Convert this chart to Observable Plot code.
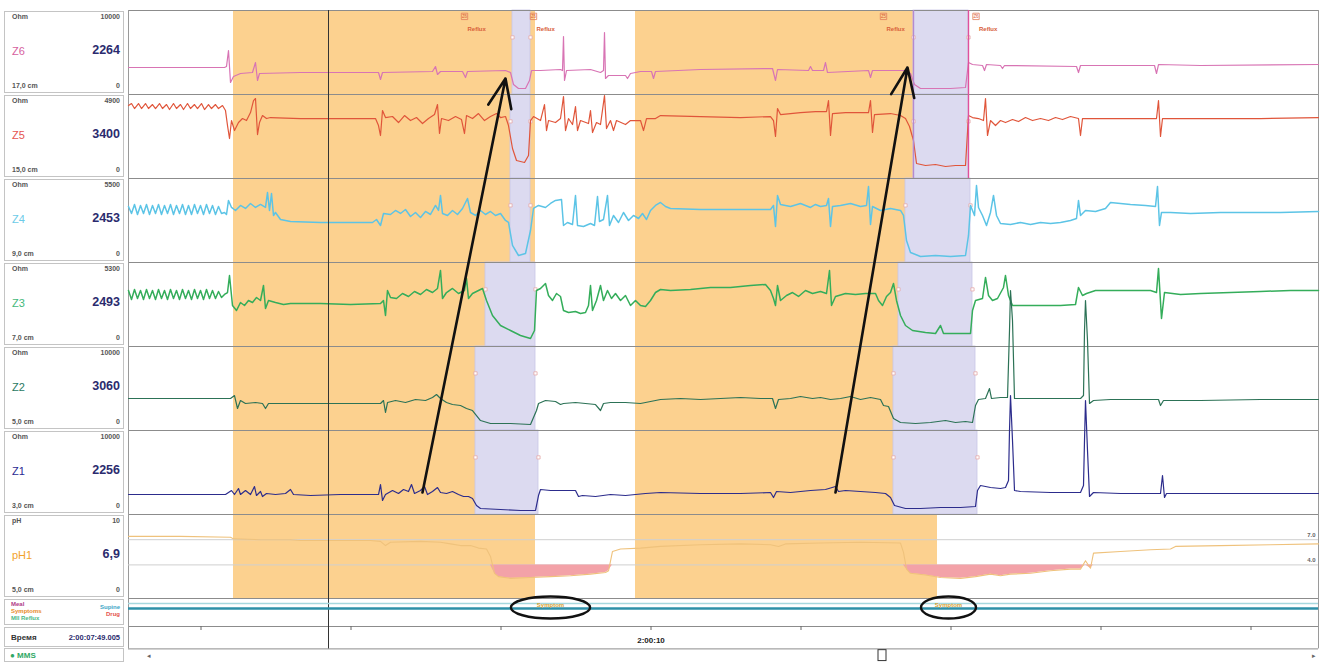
<!DOCTYPE html>
<html><head><meta charset="utf-8">
<script src="https://cdn.jsdelivr.net/npm/d3@7"></script>
<script src="https://cdn.jsdelivr.net/npm/@observablehq/plot@0.6"></script>
<style>
body{margin:0;background:#fff;font-family:"Liberation Sans",Arial,sans-serif;}
#wrap{position:relative;width:1329px;height:662px;overflow:hidden;background:#fff;}
#wrap svg{position:absolute;left:0;top:0;}
#labels{position:absolute;left:0;top:0;width:126px;height:662px;}
.box{position:absolute;left:4px;width:120px;border:1px solid #c4c4c4;background:#fff;box-sizing:border-box;}
.box span{position:absolute;white-space:nowrap;}
.tl{left:7px;top:1px;font-size:7px;font-weight:bold;color:#555;}
.tr{right:3px;top:1px;font-size:7px;font-weight:bold;color:#555;}
.nm{left:7px;top:33px;font-size:11px;}
.vl{right:3px;top:31px;font-size:12.5px;font-weight:bold;color:#2b2b6e;}
.bl{left:7px;bottom:3px;font-size:7px;font-weight:bold;color:#555;}
.br{right:3px;bottom:3px;font-size:7px;font-weight:bold;color:#555;}
.sm{font-size:6px;line-height:7px;font-weight:bold;}
</style></head>
<body>
<div id="wrap"><div id="chart"></div><div id="labels"></div></div>
<script>
// ---------- data ----------
const channels = ["Z6", "Z5", "Z4", "Z3", "Z2", "Z1"];
const maxOhm = [10000, 4900, 5500, 5300, 10000, 10000];
const positionsCm = ["17,0 cm", "15,0 cm", "9,0 cm", "7,0 cm", "5,0 cm", "3,0 cm"];
const cursorValues = ["2264", "3400", "2453", "2493", "3060", "2256"];
const phName = "pH1", phMax = 10, phCursor = "6,9", phPos = "5,0 cm";
const cursorTime = "2:00:07:49.005";
const cursorT = 80;           // elapsed seconds in the window
const timeTicks = [29, 89, 149, 209, 269, 329, 389, 449];
const timeTickLabels = [{t: 209, label: "2:00:10"}];
const phRefs = [7.0, 4.0];
const phRefLabels = ["7.0", "4.0"];

// elapsed seconds, Ohm
const Z6 = [[0,3213],[28.8,3213],[38.4,3213],[39.2,3332],[40,5236],[40.8,1428],[42,2142],[44.8,2499],[49.6,2618],[50.8,3808],[51.6,1666],[52.4,2499],[68.8,2618],[100,2618],[100.8,1785],[101.6,2618],[121.6,2737],[122.8,3332],[123.6,2380],[124.8,2737],[133.6,2737],[134.8,2023],[135.6,2737],[150.8,2856],[152.8,2618],[154,1190],[156,714],[158.8,714],[160.4,1666],[161.2,2856],[164.8,2856],[172.8,2975],[173.6,2856],[174,6902],[174.4,1666],[175.2,2856],[184.8,2975],[188.8,2618],[190,2856],[190.4,7378],[190.8,1904],[192,2261],[198.8,2261],[199.6,1904],[200.8,2499],[204.8,2737],[209.2,2737],[210,1904],[210.8,2737],[228.8,2975],[257.6,3094],[258.8,1666],[259.6,2975],[272,2856],[272.8,3332],[273.6,2856],[278,2856],[278.8,3808],[279.6,2618],[296,2856],[296.8,2023],[297.6,2856],[310.8,2856],[312.8,2499],[314.4,1190],[316.8,714],[328.8,714],[334.8,833],[336,3808],[337.6,3570],[341.6,3451],[342.4,2856],[343.2,3570],[348.8,3451],[349.6,3094],[350.4,3451],[379.2,3332],[380,2618],[380.8,3451],[410.4,3451],[411.2,2499],[412,3570],[428.8,3451],[476,3570]];
const Z5 = [[0,4256],[1.2,4373],[2.4,4081],[4,4373],[5.2,4081],[6.8,4373],[8,4081],[9.6,4314],[10.8,4081],[12.4,4373],[13.6,4081],[15.2,4314],[16.4,4023],[18,4373],[19.2,4081],[20.8,4314],[22,4023],[23.6,4373],[24.8,4081],[26.4,4314],[27.6,4081],[29.2,4373],[30.4,4023],[32,4314],[33.2,4081],[34.8,4314],[36,4081],[37.6,4256],[38.8,3964],[39.6,3090],[40.4,2332],[41.2,3381],[42.4,2798],[44,3265],[45.6,3498],[47.2,3381],[48.8,3848],[50,4547],[50.8,4664],[51.6,2565],[52.4,3265],[53.6,3673],[55.2,3498],[56.8,3556],[68.8,3498],[84.8,3498],[98.8,3498],[100,3090],[100.8,2507],[101.6,3964],[102.8,3556],[105.6,3615],[108,3265],[110.4,3673],[112.8,3381],[115.2,3556],[117.6,3207],[120,3498],[122.4,3731],[123.6,4314],[124.4,2624],[125.2,3498],[128,3381],[130.8,3615],[133.2,3440],[134.4,2624],[135.2,3673],[137.6,3498],[140,3790],[142.4,3381],[144.8,3615],[147.2,3790],[148.8,3556],[150.8,3615],[152,3090],[153.6,1749],[155.2,1049],[158.4,933],[160,1341],[160.8,3381],[162,3615],[164.8,3381],[166.4,4314],[167.2,2798],[168,3381],[170.8,3265],[172.8,3498],[174,4781],[174.8,2798],[176,3498],[177.6,3148],[178.8,4198],[179.6,2798],[180.8,3381],[184,3207],[184.8,3964],[185.6,2682],[187.2,3265],[188.8,3148],[190.4,4839],[191.2,2915],[192.8,3381],[194,2798],[195.2,3381],[198.8,3148],[200.8,3381],[204.8,3381],[206,2798],[207.2,3498],[210.8,3498],[212.8,3673],[228.8,3615],[244.8,3556],[256.8,3615],[258,3381],[258.8,2449],[259.6,4081],[260.8,3731],[264.8,3790],[268.8,3848],[274.8,3906],[279.2,3906],[280,4547],[280.8,2507],[281.6,3790],[286.8,3848],[292.8,3848],[296,3848],[296.8,4547],[297.6,2682],[298.4,3731],[304.8,3790],[308.8,3673],[310.8,3498],[312.4,3032],[314,2215],[315.2,875],[318.8,758],[322.8,816],[326.8,700],[330.8,758],[334.8,758],[336,3673],[337.6,3556],[340,3498],[342,3381],[342.8,4664],[343.6,2507],[344.8,3381],[346.8,3090],[348.8,3381],[350.8,3265],[353.6,3440],[356,3323],[358.8,3556],[361.6,3381],[364.8,3498],[368,3381],[370.8,3556],[373.6,3440],[376.8,3615],[380,3498],[380.8,2507],[381.6,3498],[384.8,3498],[392.8,3498],[400.8,3498],[408.8,3498],[411.2,3498],[412,4547],[412.8,2449],[413.6,3498],[428.8,3498],[452.8,3498],[476,3556]];
const Z4 = [[0,3668],[1.2,3210],[2.4,3799],[3.6,3144],[4.8,3734],[6,3210],[7.2,3799],[8.4,3144],[9.6,3734],[10.8,3210],[12,3799],[13.2,3144],[14.4,3734],[15.6,3210],[16.8,3799],[18,3144],[19.2,3734],[20.4,3210],[21.6,3799],[22.8,3144],[24,3734],[25.2,3144],[26.4,3799],[27.6,3210],[28.8,3734],[30,3144],[31.2,3799],[32.4,3210],[33.6,3734],[34.8,3144],[36,3668],[37.2,3210],[38.4,3275],[39.2,3144],[40,4061],[41.2,3603],[42.8,3406],[44.8,3734],[46.8,3537],[48.8,3865],[50.8,3603],[52.8,3799],[54.8,3603],[55.6,4585],[56.4,3406],[57.2,4520],[58,3079],[58.8,3275],[60.8,2817],[64.8,2686],[76.8,2620],[88.8,2620],[97.6,2620],[99.2,2817],[100.8,2424],[102,3210],[104.8,3144],[106.8,3406],[108.8,3210],[110.8,3472],[112.8,3013],[114.8,3275],[116.8,2948],[118.8,3341],[120.8,3144],[122.8,3734],[124,3406],[124.8,4389],[125.6,3210],[127.6,3079],[129.6,3406],[131.6,3144],[133.6,3537],[135.6,4192],[136.8,3275],[138.8,3079],[140.8,3406],[142.8,3144],[144.8,3341],[146.8,3079],[148.8,3210],[150.8,2751],[152,2620],[153.6,1114],[156,459],[158.8,590],[160.8,2096],[162,3537],[164,3734],[166.8,3603],[168.8,3865],[170.8,4061],[173.2,4127],[174,2424],[175.6,2620],[177.6,2489],[178.8,4389],[179.6,2424],[182,2358],[184.8,2555],[186.4,2424],[187.6,4323],[188.4,2686],[190,2817],[191.6,4389],[192.4,2424],[194,3079],[196,2620],[198,3275],[200,2751],[202,3079],[204,2882],[205.6,3210],[207.2,2817],[208.8,3406],[210.8,3734],[212.8,3930],[214.8,3668],[216.8,3537],[228.8,3472],[244.8,3472],[256.8,3472],[258,3734],[258.8,2358],[259.6,4389],[260.8,3799],[264.8,3668],[268.8,3865],[272.8,3603],[274.8,3799],[276.8,3668],[279.2,3734],[280,4192],[280.8,2358],[281.6,3668],[284.8,3734],[288.8,3865],[292.8,3668],[295.2,3734],[296,4978],[296.8,2489],[297.6,3668],[300.8,3406],[304.8,3537],[308.8,3406],[310,3079],[311.2,1441],[312.8,655],[316.8,393],[322.8,459],[328.8,393],[334.8,459],[336,1769],[336.8,3734],[338.4,3079],[339.2,5044],[340,3603],[341.6,3079],[343.2,2424],[344.8,3275],[346,4389],[347.2,3079],[348.8,2555],[352.8,2489],[356.8,2620],[360.8,2489],[364.8,2620],[368.8,2555],[372.8,2620],[376.8,2751],[379.2,2882],[380,4061],[380.8,3079],[382.8,3406],[386.8,3341],[390.8,3537],[392.8,3930],[396.8,3865],[400.8,3799],[406.8,3734],[410.8,3668],[411.6,4978],[412.4,2424],[413.2,3275],[416.8,3275],[424.8,3210],[436.8,3275],[448.8,3275],[460.8,3275],[476,3341]];
const Z3 = [[0,3534],[1.2,2966],[2.4,3597],[3.6,3029],[4.8,3534],[6,2966],[7.2,3597],[8.4,3029],[9.6,3534],[10.8,2966],[12,3597],[13.2,3029],[14.4,3534],[15.6,2966],[16.8,3597],[18,3029],[19.2,3534],[20.4,2966],[21.6,3597],[22.8,3029],[24,3534],[25.2,2966],[26.4,3597],[27.6,3029],[28.8,3534],[30,2966],[31.2,3597],[32.4,3029],[33.6,3534],[34.8,3029],[36,3470],[37.2,3092],[38.4,3281],[39.6,3407],[40.4,4480],[41.6,2587],[43.2,2272],[44.8,2776],[46.4,2587],[48,2903],[49.6,2776],[51.2,3092],[52.8,2903],[54,3849],[54.8,2398],[56,2903],[58.8,2776],[62,2650],[64.8,2713],[76.8,2713],[88.8,2650],[100.8,2713],[102,2903],[102.8,1956],[103.6,3534],[104.8,3092],[107.2,3029],[109.6,3344],[112,3155],[114.4,3470],[116.8,3281],[119.2,3597],[121.6,3407],[123.6,3660],[124.8,4796],[125.6,3029],[127.2,3407],[129.6,3660],[132,3344],[134.4,3534],[135.2,4291],[136,3029],[137.6,3344],[140,3534],[141.6,3660],[143.2,2903],[145.6,1956],[148.8,1325],[152.8,1010],[156.8,694],[160.8,505],[162.4,1010],[163.2,3534],[164.8,3660],[166.8,3975],[168,3218],[169.6,2903],[171.2,3344],[172.8,3155],[174,2272],[176,2145],[178.8,2209],[180.8,2082],[182.8,2145],[184,2587],[184.8,3849],[185.6,2272],[187.2,2903],[188.8,3849],[190,2903],[191.6,3534],[193.2,3029],[194.8,3344],[196.8,2903],[198.8,3218],[200.8,2587],[202.8,2903],[204.8,2587],[206.8,2524],[208.8,2903],[210.8,3407],[212.8,3597],[216.8,3534],[224.8,3597],[232.8,3723],[240.8,3723],[248.8,3849],[254.8,3912],[256.8,3534],[258,3029],[258.8,2587],[259.6,3849],[260.8,2903],[263.2,3218],[265.6,3407],[268,3155],[270.8,3534],[273.6,3344],[276.8,3470],[279.2,3344],[280.4,4796],[281.2,2587],[282.8,3155],[286.8,3344],[290.8,3281],[294.8,3344],[298.8,3344],[300,2903],[301.6,2587],[303.2,3155],[304.8,3407],[306,3975],[307.2,2903],[308.8,1956],[310.8,1325],[313.6,1010],[318.8,883],[322.8,820],[324.8,1325],[326,820],[330.8,820],[334.8,820],[336.8,820],[337.6,2272],[338.8,2903],[341.6,3029],[342.8,4354],[344,3218],[345.6,2903],[347.6,3029],[350,3723],[350.8,4480],[352,3218],[353.6,2587],[356.8,2587],[364.8,2587],[372.8,2587],[378.8,2650],[380,3723],[381.6,3218],[383.2,3344],[386.8,3534],[392.8,3534],[400.8,3534],[408.8,3534],[411.2,3407],[412,4922],[413.2,1767],[414.4,3407],[420.8,3281],[428.8,3344],[440.8,3407],[452.8,3470],[464.8,3534],[476,3534]];
const Z2 = [[0,3808],[20.8,3808],[38.8,3808],[40.8,3808],[42.4,4165],[43.6,2618],[44.8,3570],[46.8,3213],[50.8,3332],[53.6,3213],[54.8,2618],[56,3213],[64.8,3213],[80.8,3213],[100.8,3213],[102,3570],[102.8,2142],[103.6,3332],[106.8,3570],[110.8,3332],[114.8,3689],[118.8,3570],[121.6,3927],[123.2,4284],[124.8,3808],[127.2,3332],[129.6,3094],[132.8,2975],[135.2,2618],[137.6,2380],[139.2,1785],[140.8,1190],[144.8,833],[152.8,833],[160.8,714],[163.2,2380],[164,3213],[166.8,3570],[170.8,3451],[172.8,3094],[174,3213],[178.8,3332],[182.8,3213],[186.8,3094],[188.8,2380],[190,3213],[192.8,3332],[198.8,3332],[204.8,3213],[208.8,3451],[212.8,3689],[220.8,3808],[228.8,3689],[236.8,3808],[244.8,3927],[252.8,3808],[257.6,3808],[258.8,2618],[260,3689],[264.8,3808],[268.8,4046],[273.6,3808],[276.8,3927],[280.8,3689],[284.8,3808],[288.8,4046],[292.8,3689],[296.8,3927],[300.8,3689],[302,2975],[304,2856],[306,1428],[308.8,952],[314.8,833],[320.8,952],[326.8,1190],[330.8,952],[334.8,1071],[337.6,952],[338.8,2975],[340,3689],[342.8,3808],[344.4,4998],[345.2,3808],[348.8,3927],[351.6,3927],[352.4,11900],[352.8,16660],[353.6,13090],[354.4,3808],[356.8,3808],[368.8,3808],[380.8,3808],[382,4165],[382.4,11900],[382.8,15470],[383.6,10710],[384.4,3213],[386,3570],[392.8,3689],[404.8,3689],[412,3689],[412.8,2975],[414,3570],[428.8,3570],[452.8,3689],[476,3689]];
const Z1 = [[0,2380],[20.8,2380],[38.8,2380],[40,2618],[41.2,2856],[42.4,2380],[44,3094],[44.8,2380],[46.8,2856],[48.8,2380],[50.4,3332],[51.2,2261],[52.8,2737],[53.6,2142],[55.2,2499],[58.8,2380],[62.8,2499],[64.8,2975],[66,2380],[72.8,2261],[84.8,2380],[96.8,2380],[100,2380],[100.8,3570],[101.6,1666],[102.8,2380],[105.6,2856],[108,2499],[110,2975],[112,2737],[113.2,3570],[114.4,2499],[116.8,2856],[118.4,3332],[119.6,2380],[121.6,2737],[123.6,3213],[124.8,2618],[127.2,2499],[129.6,2737],[132,2380],[134,2142],[136,2142],[137.6,1904],[139.2,1071],[140.8,714],[148.8,595],[156.8,476],[162.8,476],[164,2261],[164.8,2975],[168.8,2856],[174.8,2856],[178.8,2856],[180,2142],[181.6,2261],[186.8,2142],[192.8,2380],[198.8,2261],[202.8,2380],[206.8,2499],[212.8,2618],[228.8,2499],[244.8,2499],[256.8,2618],[258,2023],[259.2,2737],[264.8,2618],[272.8,2856],[278.8,2975],[282.8,3332],[284,2737],[286.8,2856],[292.8,2737],[298.8,2618],[302.8,2499],[304.8,2023],[306.4,1071],[310.8,714],[316.8,714],[324.8,833],[332.8,833],[338.8,952],[339.6,2856],[340.8,3451],[344.8,3213],[348.8,3094],[350.8,3213],[352,4046],[352.4,9996],[352.8,14161],[353.6,8806],[354.4,2856],[356.8,2737],[368.8,2618],[380.8,2618],[382,3451],[382.4,8806],[382.8,13566],[383.6,7616],[384.4,2142],[386,2618],[396.8,2499],[412.8,2499],[413.6,4641],[414.4,2023],[415.2,2499],[428.8,2499],[452.8,2499],[476,2499]];
const pH1 = [[0,7.4],[20.8,7.4],[40.8,7.3],[42,7.1],[52.8,7.0],[64.8,7.0],[68.8,6.9],[80.8,6.9],[96.8,6.9],[100.8,6.8],[102.8,6.3],[104.8,6.7],[116.8,6.8],[124.8,6.7],[128.8,6.5],[132.8,6.3],[136.8,6.3],[140,6.0],[143.2,5.9],[144.8,5.0],[146.4,3.0],[148,2.6],[152.8,2.4],[160.8,2.5],[168.8,2.6],[176.8,2.7],[184.8,2.9],[190.8,3.1],[192,3.3],[193.6,5.6],[196.8,5.9],[204.8,6.0],[212.8,6.2],[228.8,6.4],[244.8,6.5],[256.8,6.4],[260,6.2],[262.8,6.5],[276.8,6.6],[292.8,6.7],[308.8,6.6],[310,5.5],[311.2,3.5],[312.8,3.0],[318.8,2.8],[324.8,2.5],[332.8,2.4],[338.8,2.6],[344.8,2.9],[348.8,2.7],[352.8,2.9],[360.8,3.0],[368.8,3.3],[376.8,3.5],[380.8,3.5],[382.8,4.5],[384.8,3.6],[386,5.4],[396.8,5.6],[408.8,5.8],[416.8,5.9],[418.8,6.2],[436.8,6.3],[456.8,6.4],[476,6.5]];
const series = [Z6, Z5, Z4, Z3, Z2, Z1];

const refluxPeriods = [{t1: 42, t2: 162.8}, {t1: 202.8, t2: 323.6}];
const bolusZones = [
  {ch:"Z6",t1:153.6,t2:160.8},{ch:"Z5",t1:152.8,t2:160.8},{ch:"Z4",t1:152.8,t2:160.8},
  {ch:"Z3",t1:142.8,t2:162.8},{ch:"Z2",t1:138.8,t2:162.8},{ch:"Z1",t1:138.8,t2:164},
  {ch:"Z6",t1:314,t2:336},{ch:"Z5",t1:314,t2:336},{ch:"Z4",t1:310.8,t2:336.8},
  {ch:"Z3",t1:308,t2:337.6},{ch:"Z2",t1:306,t2:338.8},{ch:"Z1",t1:306,t2:339.6}
];
const refluxTags = [{t:134.4, zone:"Z6"}, {t:162, zone:"Z6"}, {t:302, zone:"Z5"}, {t:339, zone:"Z6"}];
const markerLines = [{t:314, last:"Z5", color:"#b48ad0"}, {t:336, last:"Z5", color:"#e0509c"}];
const arrows = [
  {t1:117.6, ch1:"Z1", v1:2618, t2:150.8, ch2:"Z6", v2:1904},
  {t1:282.8, ch1:"Z1", v1:2618, t2:311.6, ch2:"Z6", v2:3213}
];
const symptoms = [{t:168.8, label:"Symptom"}, {t:328, label:"Symptom"}];

const traceColors = ["#d874b4", "#e0553a", "#5cc4e6", "#34ad5a", "#2c7256", "#2c2c8c"];
const labelColors = ["#d6609e", "#e65550", "#6ccbe8", "#44b87a", "#2a7a62", "#2a2a92"];
const phColor = "#efc27c", phLabelColor = "#f2a22c";
const ORANGE = "#fcd18f", LAV = "#dcdaf0";

// ---------- helpers ----------
const chIndex = Object.fromEntries(channels.map((c, i) => [c, i]));
const rowY = (i, frac) => i + 1 - frac;
const ohmY = (ch, v) => rowY(chIndex[ch], v / maxOhm[chIndex[ch]]);
const phY = p => rowY(6, p / phMax);

function ellipseSymbol(aspect) {
  return {draw(ctx, size) {
    const r = Math.sqrt(size / Math.PI), rx = r * aspect, ry = r, k = 0.5523;
    ctx.moveTo(rx, 0);
    ctx.bezierCurveTo(rx, ry * k, rx * k, ry, 0, ry);
    ctx.bezierCurveTo(-rx * k, ry, -rx, ry * k, -rx, 0);
    ctx.bezierCurveTo(-rx, -ry * k, -rx * k, -ry, 0, -ry);
    ctx.bezierCurveTo(rx * k, -ry, rx, -ry * k, rx, 0);
    ctx.closePath();
  }};
}

const eventRow = 7 + 9 / 84;
const chart = Plot.plot({
  width: 1329, height: 662,
  marginLeft: 128, marginRight: 11, marginTop: 10, marginBottom: 13.6,
  x: {domain: [0, 476], axis: null},
  y: {domain: [0, 7.6], reverse: true, axis: null},
  style: {background: "#fff", fontFamily: "Liberation Sans, Arial, sans-serif"},
  marks: [
    Plot.rect(refluxPeriods, {x1: "t1", x2: "t2", y1: () => 0, y2: () => 7, fill: ORANGE}),
    Plot.rect(bolusZones, {x1: "t1", x2: "t2", y1: d => chIndex[d.ch], y2: d => chIndex[d.ch] + 1, fill: LAV, stroke: "#c9c5e6", strokeWidth: 0.8}),
    Plot.dot(bolusZones.flatMap(d => [{t: d.t1, ch: d.ch}, {t: d.t2, ch: d.ch}]), {x: "t", y: d => chIndex[d.ch] + 0.32, symbol: "square", r: 1.8, fill: "#fff", stroke: "#e4a8a8", strokeWidth: 0.8}),
    Plot.ruleY([0, 1, 2, 3, 4, 5, 6, 7, 7 + 28 / 84, 7.6], {stroke: "#8c8c8c", strokeWidth: 1}),
    Plot.ruleX([0, 476], {y1: () => 0, y2: () => 7.6, stroke: "#9a9a9a"}),
    Plot.ruleY(phRefs, {y: d => phY(d), stroke: "#cfcfcf", strokeWidth: 1}),
    Plot.text(phRefs, {x: () => 476, y: d => phY(d), text: (d, i) => phRefLabels[i], dx: -3, dy: -5, textAnchor: "end", fontSize: 6, fill: "#666", fontWeight: "bold"}),
    Plot.areaY(pH1, {x: d => d[0], y1: () => phY(4), y2: d => phY(Math.min(d[1], 4)), fill: "#f3a2a8"}),
    Plot.line(pH1, {x: d => d[0], y: d => phY(d[1]), stroke: phColor, strokeWidth: 1.1}),
    ...channels.map((c, i) => Plot.line(series[i], {x: d => d[0], y: d => ohmY(c, d[1]), stroke: traceColors[i], strokeWidth: (c === "Z4" || c === "Z3") ? 1.5 : 1.2})),
    Plot.ruleX(markerLines, {x: "t", y1: () => 0, y2: d => chIndex[d.last] + 1, stroke: d => d.color, strokeWidth: 1.4}),
    Plot.dot(refluxTags, {x: "t", y: () => 0.07, symbol: "square", r: 3.6, stroke: "#e27d5a", fill: "none", strokeWidth: 0.8}),
    Plot.text(refluxTags, {x: "t", y: () => 0.07, text: "zone", fontSize: 4.5, fill: "#d8603a"}),
    Plot.text(refluxTags, {x: "t", y: () => 0.225, text: () => "Reflux", dx: 3, textAnchor: "start", fontSize: 6, fill: "#d8603a", fontWeight: "bold"}),
    Plot.ruleX([cursorT], {y1: () => 0, y2: () => 7.6, stroke: "#333", strokeWidth: 1}),
    Plot.arrow(arrows, {x1: "t1", y1: d => ohmY(d.ch1, d.v1), x2: "t2", y2: d => ohmY(d.ch2, d.v2), stroke: "#111", strokeWidth: 2.6, headLength: 18, headAngle: 44, bend: 0}),
    Plot.ruleY([7 + 5 / 84], {stroke: "#a6d8de", strokeWidth: 1.5}),
    Plot.ruleY([7 + 10 / 84], {stroke: "#2e90a8", strokeWidth: 2.5}),
    Plot.text(symptoms, {x: "t", y: () => eventRow - 0.03, text: "label", fontSize: 6, fill: "#d8a030", fontWeight: "bold"}),
    Plot.dot([symptoms[0]], {x: "t", y: () => eventRow, r: 11, symbol: ellipseSymbol(3.6), fill: "none", stroke: "#111", strokeWidth: 2.4}),
    Plot.dot([symptoms[1]], {x: "t", y: () => eventRow, r: 11, symbol: ellipseSymbol(2.5), fill: "none", stroke: "#111", strokeWidth: 2.4}),
    Plot.ruleX(timeTicks, {y1: () => 7 + 28 / 84, y2: () => 7 + 32 / 84, stroke: "#666"}),
    Plot.text(timeTickLabels, {x: "t", y: () => 7 + 42 / 84, text: "label", fontSize: 8, fontWeight: "bold", fill: "#222"}),
    Plot.rect([{t1: 300, t2: 303.2}], {x1: "t1", x2: "t2", y1: () => 7.615, y2: () => 7.745, fill: "#fff", stroke: "#333"}),
    Plot.text(["◂", "▸"], {x: (d, i) => i === 0 ? 8 : 474, y: () => 7.68, text: d => d, fontSize: 7, fill: "#666"})
  ]
});
document.getElementById("chart").appendChild(chart);

// ---------- left label panel ----------
const lab = document.getElementById("labels");
const rows = channels.map((c, i) => ({unit: "Ohm", max: String(maxOhm[i]), name: c, val: cursorValues[i], pos: positionsCm[i], color: labelColors[i]}))
  .concat([{unit: "pH", max: String(phMax), name: phName, val: phCursor, pos: phPos, color: phLabelColor}]);
rows.forEach((r, i) => {
  const d = document.createElement("div");
  d.className = "box";
  d.style.top = (10 + i * 84 + 1) + "px";
  d.style.height = "82px";
  d.innerHTML = `<span class="tl">${r.unit}</span><span class="tr">${r.max}</span>` +
    `<span class="nm" style="color:${r.color}">${r.name}</span><span class="vl">${r.val}</span>` +
    `<span class="bl">${r.pos}</span><span class="br">0</span>`;
  lab.appendChild(d);
});
const ev = document.createElement("div");
ev.className = "box"; ev.style.top = "599px"; ev.style.height = "26px";
ev.innerHTML = `<span class="sm" style="left:6px;top:1px;color:#b03a86">Meal<br><span style="color:#e8892a;position:static">Symptoms</span><br><span style="color:#4cb886;position:static">MII Reflux</span></span>` +
  `<span class="sm" style="right:3px;top:4px;text-align:right;color:#3ea6c6">Supine<br><span style="color:#e4504a;position:static">Drug</span></span>`;
lab.appendChild(ev);
const tm = document.createElement("div");
tm.className = "box"; tm.style.top = "627px"; tm.style.height = "20px";
tm.innerHTML = `<span style="left:6px;top:5px;font-size:8px;font-weight:bold;color:#333">Время</span>` +
  `<span style="right:3px;top:5px;font-size:7.5px;font-weight:bold;color:#2b2b6e">${cursorTime}</span>`;
lab.appendChild(tm);
const sc = document.createElement("div");
sc.className = "box"; sc.style.top = "648px"; sc.style.height = "14px";
sc.innerHTML = `<span style="left:5px;top:2px;font-size:8px;font-weight:bold;color:#2fa864">● MMS</span>`;
lab.appendChild(sc);
</script>
</body></html>
